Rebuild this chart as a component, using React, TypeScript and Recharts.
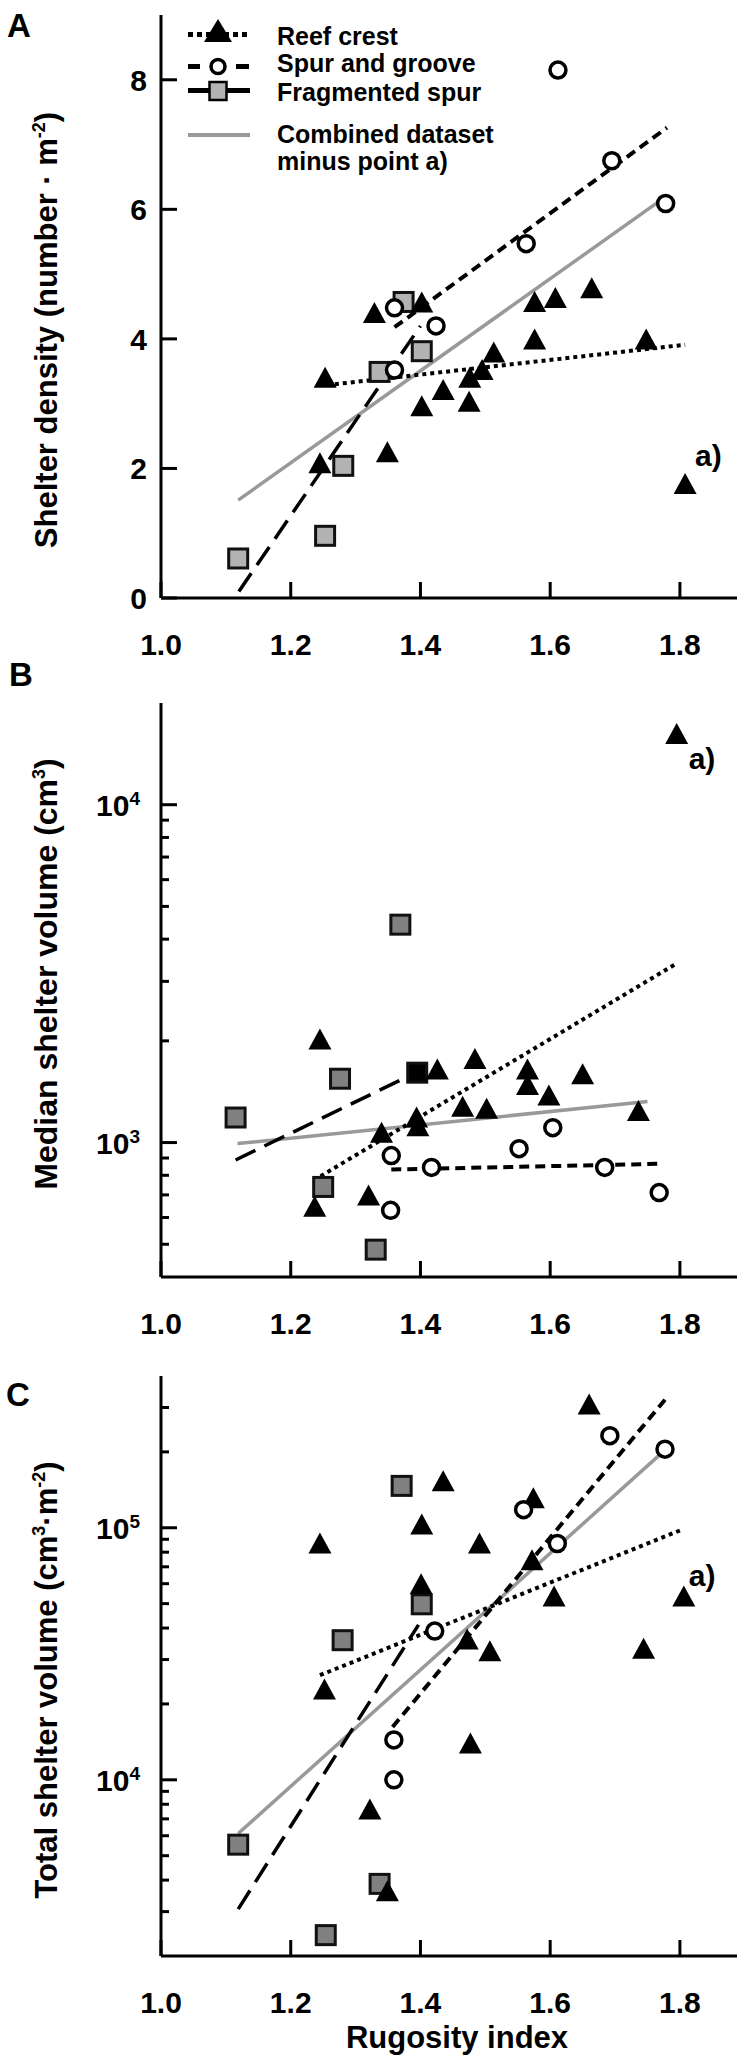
import React from "react";
import {
  ScatterChart,
  Scatter,
  XAxis,
  YAxis,
  ReferenceLine,
  ReferenceDot,
  Cell,
} from "recharts";

type Pt = [number, number];

const FONT = '"Liberation Sans", Arial, Helvetica, sans-serif';

// axis ticks
const rugosityTicks = [1.0, 1.2, 1.4, 1.6, 1.8];
const densityTicks = [0, 2, 4, 6, 8];
const medianTicks = [500, 600, 700, 800, 900, 1000, 2000, 3000, 4000, 5000, 6000, 7000, 8000, 9000, 10000];
const totalTicks = [
  3000, 4000, 5000, 6000, 7000, 8000, 9000, 10000, 20000, 30000, 40000, 50000, 60000, 70000, 80000,
  90000, 100000, 200000, 300000,
];

// A - shelter density (last reef point is point a)
const reefA: Pt[] = [
  [1.253, 3.4], [1.245, 2.08], [1.329, 4.4], [1.349, 2.25], [1.402, 4.56], [1.402, 2.96],
  [1.435, 3.21], [1.475, 3.03], [1.476, 3.4], [1.495, 3.52], [1.513, 3.79], [1.576, 4.57],
  [1.576, 3.99], [1.608, 4.63], [1.664, 4.78], [1.748, 3.99], [1.808, 1.76],
];
const spurA: Pt[] = [[1.612, 8.15], [1.695, 6.75], [1.778, 6.09], [1.563, 5.47], [1.36, 4.48], [1.424, 4.2], [1.36, 3.52]];
const fragA: Pt[] = [[1.119, 0.61], [1.253, 0.96], [1.281, 2.04], [1.337, 3.49], [1.402, 3.81], [1.374, 4.57]];
const reefFitA: Pt[] = [[1.268, 3.3], [1.808, 3.91]];
const spurFitA: Pt[] = [[1.36, 4.18], [1.78, 7.26]];
const fragFitA: Pt[] = [[1.12, 0.1], [1.4, 4.2]];
const allFitA: Pt[] = [[1.119, 1.51], [1.776, 6.18]];

// B - median shelter volume
const reefB: Pt[] = [
  [1.245, 2020], [1.237, 646], [1.32, 697], [1.34, 1070], [1.394, 1186], [1.396, 1117],
  [1.426, 1645], [1.465, 1277], [1.484, 1766], [1.502, 1260], [1.565, 1645], [1.565, 1480],
  [1.598, 1377], [1.65, 1593], [1.736, 1240], [1.795, 16200],
];
const spurB: Pt[] = [[1.355, 915], [1.354, 630], [1.417, 844], [1.552, 959], [1.604, 1107], [1.684, 844], [1.768, 711]];
const fragB: Pt[] = [[1.369, 4415], [1.276, 1545], [1.115, 1186], [1.25, 739], [1.331, 482], [1.395, 1610]];
const reefFitB: Pt[] = [[1.246, 795], [1.795, 3390]];
const spurFitB: Pt[] = [[1.355, 832], [1.765, 865]];
const fragFitB: Pt[] = [[1.115, 888], [1.395, 1618]];
const allFitB: Pt[] = [[1.118, 993], [1.75, 1322]];

// C - total shelter volume
const reefC: Pt[] = [
  [1.66, 308000], [1.435, 153000], [1.574, 131000], [1.402, 103000], [1.245, 86600], [1.491, 86600],
  [1.572, 74300], [1.401, 59700], [1.606, 53400], [1.472, 36000], [1.507, 32400], [1.744, 33100],
  [1.252, 22800], [1.477, 13950], [1.322, 7620], [1.349, 3610], [1.806, 53400],
];
const spurC: Pt[] = [[1.692, 232000], [1.777, 205000], [1.559, 118000], [1.611, 86600], [1.422, 38900], [1.359, 14400], [1.359, 10000]];
const fragC: Pt[] = [[1.371, 146600], [1.402, 49700], [1.28, 35800], [1.119, 5530], [1.337, 3865], [1.254, 2420]];
const reefFitC: Pt[] = [[1.245, 26000], [1.802, 98000]];
const spurFitC: Pt[] = [[1.357, 16200], [1.777, 322000]];
const fragFitC: Pt[] = [[1.119, 3070], [1.397, 41200]];
const allFitC: Pt[] = [[1.119, 6120], [1.773, 199000]];

const pts = (arr: Pt[]) => arr.map(([x, y]) => ({ x, y }));

const Triangle = (p: any) => (
  <polygon
    points={`${p.cx},${p.cy - 11} ${p.cx - 11.5},${p.cy + 10} ${p.cx + 11.5},${p.cy + 10}`}
    fill="#000"
  />
);
const Ring = (p: any) => <circle cx={p.cx} cy={p.cy} r={8} fill="#fff" stroke="#000" strokeWidth={3.5} />;
const Square = (p: any) => (
  <rect x={p.cx - 9.5} y={p.cy - 9.5} width={19} height={19} fill={p.fill} stroke="#111" strokeWidth={3} />
);

const XTick = (p: any) => (
  <g>
    <line x1={p.x} x2={p.x} y1={p.y} y2={p.y - 16} stroke="#000" strokeWidth={3} />
    <text x={p.x} y={p.y + 57} textAnchor="middle" fontSize={30} fontWeight={700} fontFamily={FONT} fill="#000">
      {Number(p.payload.value).toFixed(1)}
    </text>
  </g>
);

const YTickLin = (p: any) => (
  <g>
    <line x1={p.x} x2={p.x + 16} y1={p.y} y2={p.y} stroke="#000" strokeWidth={3} />
    <text x={p.x - 14} y={p.y + 11} textAnchor="end" fontSize={30} fontWeight={700} fontFamily={FONT} fill="#000">
      {p.payload.value}
    </text>
  </g>
);

const YTickLog = (p: any) => {
  const e = Math.log10(p.payload.value);
  const major = Math.abs(e - Math.round(e)) < 1e-6;
  return (
    <g>
      <line x1={p.x} x2={p.x + (major ? 16 : 8)} y1={p.y} y2={p.y} stroke="#000" strokeWidth={3} />
      {major && (
        <text x={p.x - 21} y={p.y + 11} textAnchor="end" fontSize={30} fontWeight={700} fontFamily={FONT} fill="#000">
          10
          <tspan dy={-11} fontSize={19}>
            {Math.round(e)}
          </tspan>
        </text>
      )}
    </g>
  );
};

const ALabel = (p: any) => (
  <text
    x={p.viewBox.x + p.dx}
    y={p.viewBox.y + p.dy}
    fontSize={30}
    fontWeight={700}
    fontFamily={FONT}
    fill="#000"
  >
    a)
  </text>
);

const seg = (f: Pt[]) => f.map(([x, y]) => ({ x, y }));

interface PanelProps {
  top: number;
  height: number;
  plotTop: number;
  plotHeight: number;
  log: boolean;
  domain: [number, number];
  ticks: number[];
  reef: Pt[];
  spur: Pt[];
  frag: Pt[];
  reefFit: Pt[];
  spurFit: Pt[];
  fragFit: Pt[];
  allFit: Pt[];
  squareFill: string;
  darkSquare?: number;
  aDx: number;
  aDy: number;
}

function Panel(props: PanelProps) {
  const outlier = props.reef[props.reef.length - 1];
  return (
    <div style={{ position: "absolute", left: 0, top: props.top }}>
      <ScatterChart
        width={752}
        height={props.height}
        margin={{ top: props.plotTop, right: 15, bottom: 0, left: 0 }}
      >
        <XAxis
          type="number"
          dataKey="x"
          domain={[1, 1.888]}
          allowDataOverflow
          ticks={rugosityTicks}
          interval={0}
          tickLine={false}
          tickSize={0}
          tickMargin={0}
          height={props.height - props.plotTop - props.plotHeight}
          axisLine={{ stroke: "#000", strokeWidth: 3 }}
          tick={XTick}
        />
        <YAxis
          type="number"
          dataKey="y"
          scale={props.log ? "log" : "linear"}
          domain={props.domain}
          allowDataOverflow
          ticks={props.ticks}
          interval={0}
          width={161}
          tickLine={false}
          tickSize={0}
          tickMargin={0}
          axisLine={{ stroke: "#000", strokeWidth: 3 }}
          tick={props.log ? YTickLog : YTickLin}
        />
        <ReferenceLine segment={seg(props.allFit)} stroke="#999" strokeWidth={3.5} ifOverflow="visible" />
        <ReferenceLine segment={seg(props.reefFit)} stroke="#000" strokeWidth={4} strokeDasharray="4 4" ifOverflow="visible" />
        <ReferenceLine segment={seg(props.spurFit)} stroke="#000" strokeWidth={4} strokeDasharray="10 6" ifOverflow="visible" />
        <ReferenceLine segment={seg(props.fragFit)} stroke="#000" strokeWidth={3.5} strokeDasharray="22 10" ifOverflow="visible" />
        <Scatter data={pts(props.frag)} shape={Square} isAnimationActive={false}>
          {props.frag.map((_, i) => (
            <Cell key={i} fill={i === props.darkSquare ? "#000" : props.squareFill} />
          ))}
        </Scatter>
        <Scatter data={pts(props.reef)} shape={Triangle} isAnimationActive={false} />
        <Scatter data={pts(props.spur)} shape={Ring} isAnimationActive={false} />
        <ReferenceDot
          x={outlier[0]}
          y={outlier[1]}
          r={0}
          ifOverflow="visible"
          label={<ALabel dx={props.aDx} dy={props.aDy} />}
        />
      </ScatterChart>
    </div>
  );
}

const txt = { fontFamily: FONT, fontWeight: 700, fill: "#000" } as const;

export default function App() {
  return (
    <div style={{ position: "relative", width: 752, height: 2071, background: "#fff", overflow: "hidden" }}>
      <style>{"body{margin:0}"}</style>
      <Panel
        top={0}
        height={680}
        plotTop={15}
        plotHeight={583}
        log={false}
        domain={[0, 9]}
        ticks={densityTicks}
        reef={reefA}
        spur={spurA}
        frag={fragA}
        reefFit={reefFitA}
        spurFit={spurFitA}
        fragFit={fragFitA}
        allFit={allFitA}
        squareFill="#b3b3b3"
        aDx={10}
        aDy={-18}
      />
      <Panel
        top={680}
        height={660}
        plotTop={23}
        plotHeight={574}
        log={true}
        domain={[400, 20000]}
        ticks={medianTicks}
        reef={reefB}
        spur={spurB}
        frag={fragB}
        reefFit={reefFitB}
        spurFit={spurFitB}
        fragFit={fragFitB}
        allFit={allFitB}
        squareFill="#808080"
        darkSquare={5}
        aDx={12}
        aDy={35}
      />
      <Panel
        top={1340}
        height={731}
        plotTop={36}
        plotHeight={580}
        log={true}
        domain={[2000, 400000]}
        ticks={totalTicks}
        reef={reefC}
        spur={spurC}
        frag={fragC}
        reefFit={reefFitC}
        spurFit={spurFitC}
        fragFit={fragFitC}
        allFit={allFitC}
        squareFill="#808080"
        aDx={5}
        aDy={-10}
      />
      <svg
        width={752}
        height={2071}
        style={{ position: "absolute", left: 0, top: 0, pointerEvents: "none" }}
      >
        {/* panel letters */}
        <text x={7} y={37} fontSize={33} {...txt}>A</text>
        <text x={9} y={686} fontSize={33} {...txt}>B</text>
        <text x={6} y={1406} fontSize={33} {...txt}>C</text>

        {/* y titles */}
        <text transform="translate(57,330) rotate(-90)" textAnchor="middle" fontSize={31} {...txt}>
          Shelter density (number · m<tspan dy={-12} fontSize={18}>-2</tspan>
          <tspan dy={12}>)</tspan>
        </text>
        <text transform="translate(57,974) rotate(-90)" textAnchor="middle" fontSize={32} {...txt}>
          Median shelter volume (cm<tspan dy={-12} fontSize={18}>3</tspan>
          <tspan dy={12}>)</tspan>
        </text>
        <text transform="translate(57,1680) rotate(-90)" textAnchor="middle" fontSize={31} {...txt}>
          Total shelter volume (cm<tspan dy={-12} fontSize={18}>3</tspan>
          <tspan dy={12}>·m</tspan>
          <tspan dy={-12} fontSize={18}>-2</tspan>
          <tspan dy={12}>)</tspan>
        </text>

        {/* x title */}
        <text x={457} y={2048} textAnchor="middle" fontSize={31} {...txt}>Rugosity index</text>

        {/* legend */}
        <line x1={188} x2={250} y1={34.5} y2={34.5} stroke="#000" strokeWidth={5} strokeDasharray="5 4" />
        <polygon points="218,19 204,42 232,42" fill="#000" />
        <text x={277} y={45} fontSize={25} {...txt}>Reef crest</text>

        <line x1={188} x2={200} y1={66.5} y2={66.5} stroke="#000" strokeWidth={5} />
        <line x1={236} x2={249} y1={66.5} y2={66.5} stroke="#000" strokeWidth={5} />
        <circle cx={218} cy={66.5} r={7} fill="#fff" stroke="#000" strokeWidth={3.5} />
        <text x={277} y={72} fontSize={25} {...txt}>Spur and groove</text>

        <line x1={188} x2={250} y1={90.5} y2={90.5} stroke="#000" strokeWidth={5} />
        <rect x={209.5} y={82} width={17} height={18} fill="#b3b3b3" stroke="#000" strokeWidth={2.5} />
        <text x={277} y={101} fontSize={25} {...txt}>Fragmented spur</text>

        <line x1={188} x2={250} y1={135} y2={135} stroke="#999" strokeWidth={4} />
        <text x={277} y={143} fontSize={25} {...txt}>Combined dataset</text>
        <text x={277} y={170} fontSize={25} {...txt}>minus point a)</text>
      </svg>
    </div>
  );
}
